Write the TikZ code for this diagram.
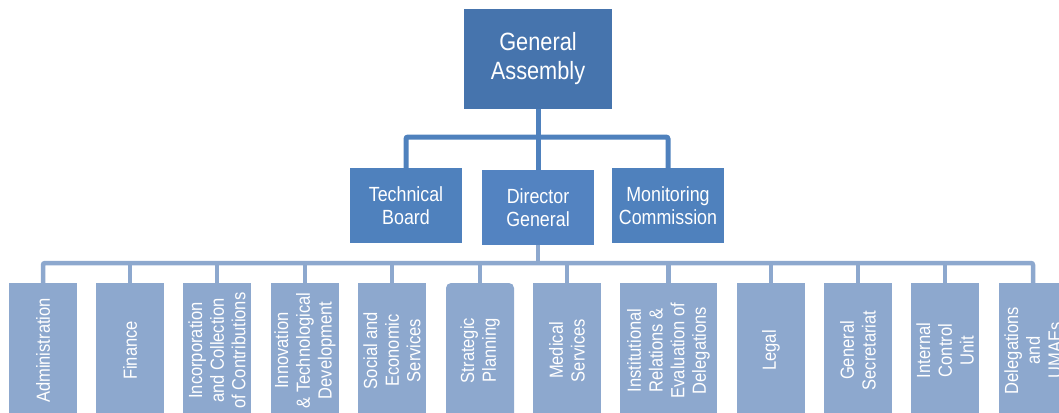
\documentclass[tikz,border=0pt]{standalone}
\usepackage{fontspec}
\setmainfont{Liberation Sans}[FakeStretch=0.87]
\usepackage{tikz}
\usetikzlibrary{positioning,calc}
\definecolor{topblue}{HTML}{4674AD}
\definecolor{midblue}{HTML}{4F81BD}
\definecolor{dgblue}{HTML}{5383C1}
\definecolor{lowblue}{HTML}{8DA8CE}
\tikzstyle{topbox}  = [fill=topblue,text=white,inner sep=0pt,align=center,
                       minimum width=148pt,minimum height=100pt,
                       font=\fontsize{25}{29}\selectfont]
\tikzstyle{midbox}  = [fill=midblue,text=white,inner sep=0pt,align=center,
                       minimum width=112pt,minimum height=75pt,
                       font=\fontsize{20.5}{23}\selectfont]
\tikzstyle{lowbox}  = [fill=lowblue,text=white,inner sep=0pt,align=center,
                       rotate=90,minimum width=135pt,
                       font=\fontsize{19}{21.7}\selectfont]
\tikzstyle{topline} = [draw=midblue,line width=5pt,rounded corners=2pt]
\tikzstyle{lowline} = [draw=lowblue,line width=4.5pt,rounded corners=2pt]

\begin{document}
\begin{tikzpicture}[x=1pt,y=-1pt]
    \useasboundingbox (0,0) rectangle (1059,412);
    % top levels
    \node[topbox] (GA) at (538,59) {General\\Assembly};
    \node[midbox] (TB) at (406,205.5) {Technical\\Board};
    \node[midbox,fill=dgblue] (DG) at (538,207.5) {Director\\General};
    \node[midbox] (MC) at (668,205.5) {Monitoring\\Commission};
    \coordinate (GAbus) at (538,137);
    \coordinate (DGbus) at (538,263);
    \draw[topline] (TB.north) |- (GAbus) -| (MC.north);
    \draw[topline] (GA.south) -- (DG.north);
    % departments
    \foreach \i/\x/\w/\r/\t in {
        1/43/68/0/{Administration},
        2/130/68/0/{Finance},
        3/217/68/0/{Incorporation\\and Collection\\of Contributions},
        4/305/68/0/{Innovation\\\& Technological\\Development},
        5/392/68/0/{Social and\\Economic\\Services},
        6/480/68/5/{Strategic\\Planning},
        7/567/68/0/{Medical\\Services},
        8/668.5/97/0/{Institutional\\Relations \&\\Evaluation of\\Delegations},
        9/771/68/0/{Legal},
        10/858/68/0/{General\\Secretariat},
        11/945/68/0/{Internal\\Control\\Unit},
        12/1033/68/0/{Delegations\\and\\UMAEs}}
    {
        \node[lowbox,minimum height=\w pt,rounded corners=\r pt] (D\i) at (\x,350.5) {\t};
    }
    \draw[lowline] (D1.east) |- (DGbus) -| (D12.east);
    \draw[lowline] (DG.south) -- (DGbus);
    \foreach \i in {2,...,11}
        \draw[lowline] (D\i.east |- DGbus) -- (D\i.east);
\end{tikzpicture}
\end{document}
